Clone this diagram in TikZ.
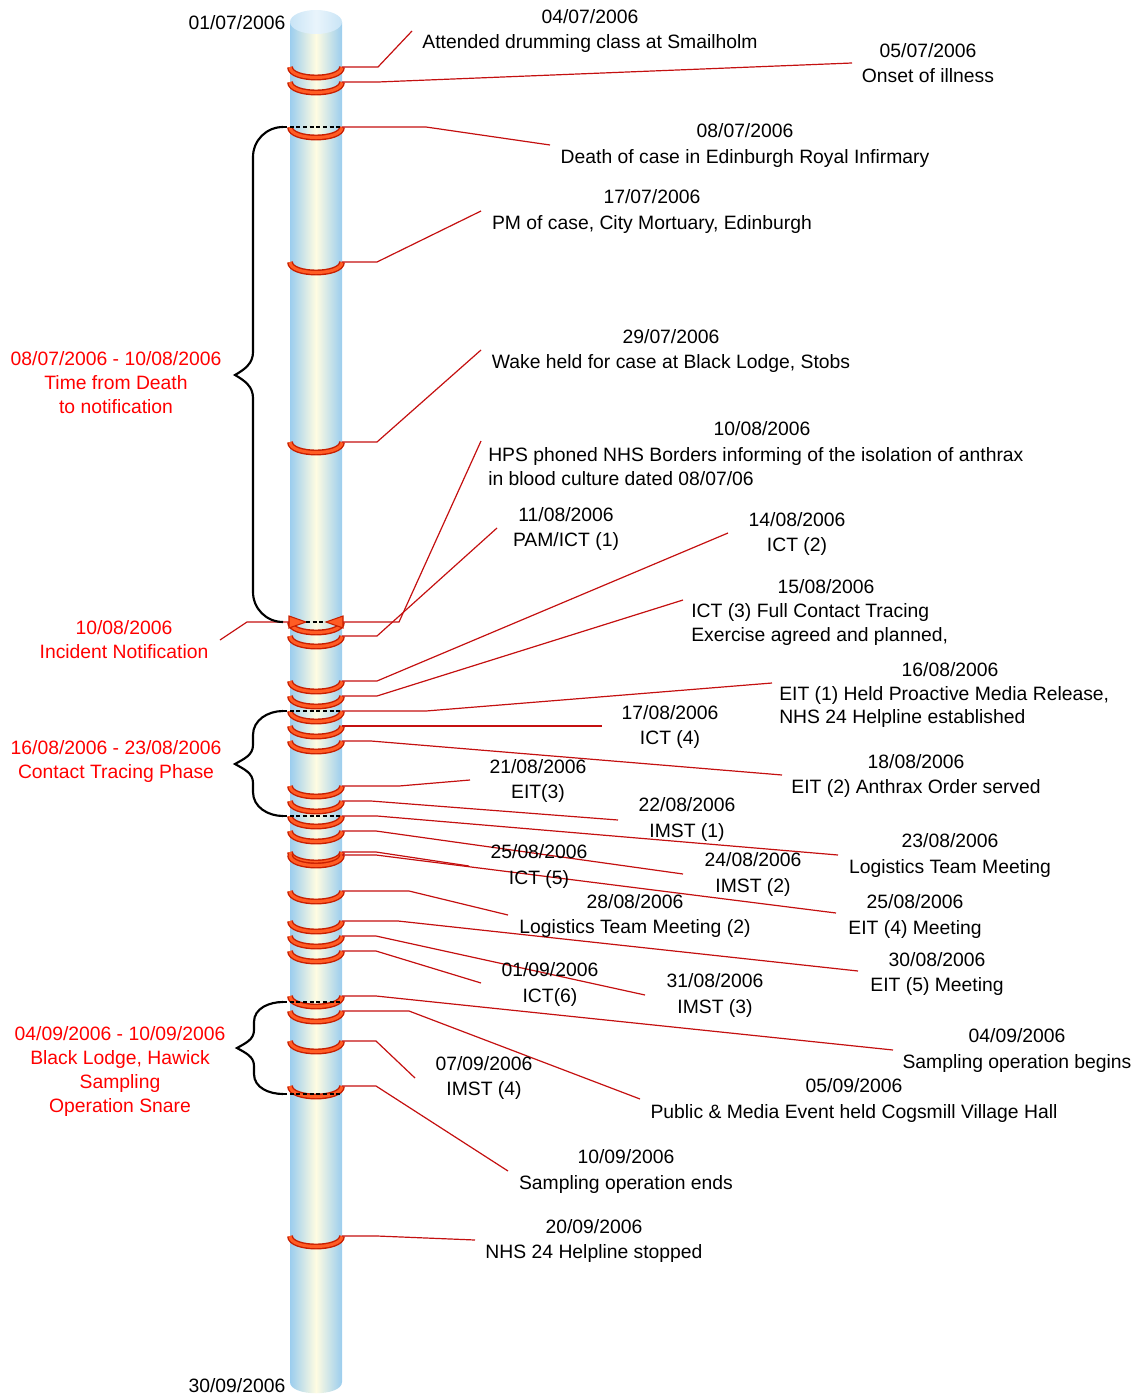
\documentclass[tikz,border=0pt]{standalone}
\usepackage{fontspec}
\setmainfont{Liberation Sans}
\usepackage{tikz}
\usetikzlibrary{arrows.meta}
\definecolor{cylblue}{RGB}{155,205,238}
\definecolor{cylcream}{RGB}{255,252,226}
\definecolor{cyltop}{RGB}{212,234,248}
\definecolor{leadred}{RGB}{196,16,16}
\definecolor{ringdark}{RGB}{200,30,0}
\definecolor{ringlight}{RGB}{255,92,36}

\tikzset{
  leader/.style={draw=leadred, line width=0.9pt},
  ringout/.style={draw=ringdark, line width=4.4pt},
  ringin/.style={draw=ringlight, line width=2.3pt},
  cutline/.style={black, dash pattern=on 3pt off 2pt, line width=0.8pt},
  brace/.style={black, line width=1.6pt},
  lbl/.style={align=center, inner sep=0pt, yshift=-1.5pt, font=\fontsize{14.5}{19}\selectfont},
  lbll/.style={align=left, inner sep=0pt, yshift=-1.5pt, font=\fontsize{14.5}{17.5}\selectfont},
  redlbl/.style={align=center, inner sep=0pt, yshift=-1.5pt, text=red, font=\fontsize{14.5}{18}\selectfont},
  tri/.style={fill=ringlight, draw=ringdark, line width=0.8pt},
}

\begin{document}
\begin{tikzpicture}[x=0.75pt, y=-0.75pt]
    \useasboundingbox (0,0) rectangle (1138,1395);

    % ===== CYLINDER =====
    \shade[left color=cylblue, right color=cylblue, middle color=cylcream]
        (290,22) -- (290,1382) .. controls (290,1397) and (342,1397) .. (342,1382) -- (342,22) -- cycle;
    \shade[left color=cyltop!80!cylblue, right color=cyltop!80!cylblue, middle color=cyltop!50!white]
        (316,22) ellipse [x radius=19.5pt, y radius=9pt];

    % ===== RINGS AND LEADERS =====
    \foreach \n/\y/\kx/\ex/\ey in {a/67/378/412/31, b/82/378/852/63, c/127/426/550/145,
        d/262/377/481/211, e/442/377/481/350, f/622/399/481/441, g/636/377/497/528,
        h/681/377/728/533, i/696/377/683/600, j/711/426/772/683, k/726/426/602/726,
        l/741/371/782/775, m/786/399/470/780, n/801/371/618/820, o/816/377/838/855,
        p/831/376/683/874, q/852/376/469/866, r/855/376/836/913, s/891/409/508/915,
        t/921/398/858/971, u/936/376/645/995, v/951/376/481/983, w/996/376/893/1050,
        x/1011/409/640/1099, y/1041/376/415/1078, z/1086/376/508/1171, A/1236/377/475/1240} {
        \coordinate (r\n) at (342,\y);
        \coordinate (k\n) at (\kx,\y);
        \coordinate (e\n) at (\ex,\ey);
        \draw[ringout] (290,\y) .. controls (290,\y+14) and (342,\y+14) .. (r\n);
        \draw[ringin] (290,\y) .. controls (290,\y+14) and (342,\y+14) .. (r\n);
        \draw[leader] (r\n) -- (k\n) -- (e\n);
    }

    % ===== NOTIFICATION MARK =====
    \filldraw[tri] (289,616) -- (306,622) -- (289,628) -- cycle;
    \filldraw[tri] (343,616) -- (326,622) -- (343,628) -- cycle;
    \draw[cutline] (306,622) -- (326,622);
    \coordinate (nl0) at (289,622);
    \coordinate (nl1) at (247,622);
    \coordinate (nl2) at (220,640);
    \draw[leader] (nl0) -- (nl1) -- (nl2);

    % ===== BRACES =====
    \foreach \yc in {127, 711, 816, 1002, 1094}
        \draw[cutline] (283,\yc) -- (342,\yc);
    \draw[brace] (283,127) to[out=180,in=90] (253,157) -- (253,352) to[out=-90,in=30] (235,375)
        to[out=-30,in=90] (253,398) -- (253,592) to[out=-90,in=180] (283,622);
    \draw[brace] (283,711) to[out=180,in=90] (253,735) -- (253,745) to[out=-90,in=30] (235,764)
        to[out=-30,in=90] (253,783) -- (253,792) to[out=-90,in=180] (283,816);
    \draw[brace] (283,1002) to[out=180,in=90] (254,1022) -- (254,1030) to[out=-90,in=30] (237,1048)
        to[out=-30,in=90] (254,1066) -- (254,1074) to[out=-90,in=180] (283,1094);

    % ===== LEFT LABELS =====
    \node[lbl] (start) at (237,21) {01/07/2006};
    \node[lbl] (end) at (237,1384) {30/09/2006};
    \node[redlbl] (death) at (116,381) {08/07/2006 - 10/08/2006\\Time from Death\\to notification};
    \node[redlbl] (notif) at (124,637.5) {10/08/2006\\Incident Notification};
    \node[redlbl] (trace) at (116,759.5) {16/08/2006 - 23/08/2006\\Contact Tracing Phase};
    \node[redlbl] (snare) at (120,1069.5) {04/09/2006 - 10/09/2006\\Black Lodge, Hawick\\Sampling\\Operation Snare};

    % ===== EVENT LABELS =====
    \node[lbl] (ta) at (590,29) {04/07/2006\\Attended drumming class at Smailholm};
    \node[lbl] (tb) at (928,61) {05/07/2006\\Onset of illness};
    \node[lbl] (tc) at (745,143.5) {08/07/2006\\Death of case in Edinburgh Royal Infirmary};
    \node[lbl] (td) at (652,209.5) {17/07/2006\\PM of case, City Mortuary, Edinburgh};
    \node[lbl] (te) at (671,349) {29/07/2006\\Wake held for case at Black Lodge, Stobs};
    \node[lbl] (tf) at (762,427) {10/08/2006};
    \node[lbll, anchor=west] (tf2) at (488,464.5) {HPS phoned NHS Borders informing of the isolation of anthrax\\in blood culture dated 08/07/06};
    \node[lbl] (tg) at (566,527) {11/08/2006\\PAM/ICT (1)};
    \node[lbl] (th) at (797,532) {14/08/2006\\ICT (2)};
    \node[lbl] (ti) at (826,585) {15/08/2006};
    \node[lbll, anchor=west] (ti2) at (691,622.5) {ICT (3) Full Contact Tracing\\Exercise agreed and planned,};
    \node[lbl] (tj) at (950,668) {16/08/2006};
    \node[lbll, anchor=west] (tj2) at (779,705) {EIT (1) Held Proactive Media Release,\\NHS 24 Helpline established};
    \node[lbl] (tk) at (670,725) {17/08/2006\\ICT (4)};
    \node[lbl] (tl) at (916,774) {18/08/2006\\EIT (2) Anthrax Order served};
    \node[lbl] (tm) at (538,779) {21/08/2006\\EIT(3)};
    \node[lbl] (tn) at (687,817.5) {22/08/2006\\IMST (1)};
    \node[lbl] (to) at (950,853.5) {23/08/2006\\Logistics Team Meeting};
    \node[lbl] (tp) at (753,872.5) {24/08/2006\\IMST (2)};
    \node[lbl] (tq) at (539,864.5) {25/08/2006\\ICT (5)};
    \node[lbl] (tr) at (915,914.5) {25/08/2006\\EIT (4) Meeting};
    \node[lbl] (ts) at (635,914) {28/08/2006\\Logistics Team Meeting (2)};
    \node[lbl] (tt) at (937,972) {30/08/2006\\EIT (5) Meeting};
    \node[lbl] (tu) at (715,993.5) {31/08/2006\\IMST (3)};
    \node[lbl] (tv) at (550,982.5) {01/09/2006\\ICT(6)};
    \node[lbl] (tw) at (1017,1048.5) {04/09/2006\\Sampling operation begins};
    \node[lbl] (tx) at (854,1098.5) {05/09/2006\\Public \& Media Event held Cogsmill Village Hall};
    \node[lbl] (ty) at (484,1076) {07/09/2006\\IMST (4)};
    \node[lbl] (tz) at (626,1169.5) {10/09/2006\\Sampling operation ends};
    \node[lbl] (tA) at (594,1239) {20/09/2006\\NHS 24 Helpline stopped};

\end{tikzpicture}
\end{document}
